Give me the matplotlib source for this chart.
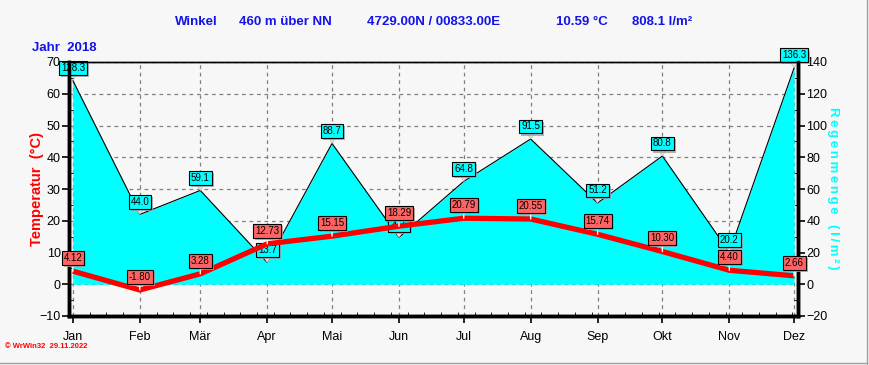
import numpy as np
import matplotlib
matplotlib.use("Agg")
import matplotlib.pyplot as plt
import matplotlib.patheffects as pe
from matplotlib.ticker import MultipleLocator, FixedLocator

# data
months = ['Jan', 'Feb', 'Mär', 'Apr', 'Mai', 'Jun', 'Jul', 'Aug', 'Sep', 'Okt', 'Nov', 'Dez']
month_len = [31, 28, 31, 30, 31, 30, 31, 31, 30, 31, 30, 31]
temp = [4.12, -1.80, 3.28, 12.73, 15.15, 18.29, 20.79, 20.55, 15.74, 10.30, 4.40, 2.66]
rain = [128.3, 44.0, 59.1, 13.7, 88.7, 29.5, 64.8, 91.5, 51.2, 80.8, 20.2, 136.3]

title_parts = ['Winkel', '460 m über NN', '4729.00N / 00833.00E', '10.59 °C', '808.1 l/m²']
year_label = 'Jahr  2018'

plt.rcParams['font.family'] = ['Liberation Sans', 'DejaVu Sans']
bg = '#F7F7F7'
blue = '#1414E6'
grid_kw = dict(color='#808080', ls=(0, (3, 3)), lw=0.9)

x = np.concatenate([[0], np.cumsum(month_len[:-1])])

fig = plt.figure(figsize=(8.69, 3.65), dpi=100, facecolor=bg)
ax = fig.add_axes([69 / 869, 1 - 316 / 365, (798 - 69) / 869, (316 - 62) / 365])
ax2 = ax.twinx()
ax.set_zorder(ax2.get_zorder() + 1)
ax.patch.set_visible(False)
ax2.set_facecolor(bg)

# rain area (grid lives on the rain axes so the fill covers it)
ax2.fill_between(x, 0, rain, color='#00FFFF', lw=0, zorder=2)
ax2.plot(x, rain, color='black', lw=0.8, zorder=3)
ax2.set_ylim(-20, 140)
ax2.yaxis.set_major_locator(MultipleLocator(20))
ax2.yaxis.set_minor_locator(MultipleLocator(10))
ax2.set_axisbelow(True)
ax2.grid(True, which='major', axis='y', **grid_kw)
for xi in x:
    ax2.axvline(xi, zorder=0.5, **grid_kw)

# temperature line
ax.plot(x, temp, color='#FF0000', lw=3.8, solid_capstyle='butt', zorder=5)
ax.set_ylim(-10, 70)
ax.set_xlim(-1.8, 335.8)
ax.yaxis.set_major_locator(MultipleLocator(10))
ax.yaxis.set_minor_locator(MultipleLocator(5))
ax.xaxis.set_major_locator(FixedLocator(x))
ax.set_xticklabels(months)
ax.xaxis.set_minor_locator(FixedLocator(np.arange(0, 336, 7.75)))

for a in (ax, ax2):
    a.tick_params(labelsize=9, colors='black', width=1.2)
    a.tick_params(which='minor', length=3, direction='in')
ax.tick_params(axis='x', which='major', length=5, direction='out', pad=6)
ax.tick_params(axis='y', which='major', length=5, direction='out', pad=1)
ax2.tick_params(axis='y', which='major', length=5, direction='out', pad=1)

for a in (ax, ax2):
    a.spines['top'].set_linewidth(1.0)
    for s in ('left', 'right', 'bottom'):
        a.spines[s].set_linewidth(2.5)

shadow = [pe.withSimplePatchShadow(offset=(1.5, -1.5), shadow_rgbFace='#A0A0A0', alpha=0.8)]

# rain labels with small pointer
for xi, r in zip(x, rain):
    ax2.annotate('', xy=(xi, r), xytext=(0, 4), textcoords='offset points', zorder=6,
                 arrowprops=dict(arrowstyle='wedge,tail_width=0.5', fc='#E4E4E4', ec='#C0C0C0',
                                 lw=0.5, shrinkA=0, shrinkB=0))
    t = ax2.annotate(f'{r:.1f}', xy=(xi, r), xytext=(0, 9), textcoords='offset points',
                     ha='center', va='center', fontsize=7, zorder=6,
                     bbox=dict(boxstyle='square,pad=0.2', fc='#00FFFF', ec='black', lw=0.8))
    t.get_bbox_patch().set_path_effects(shadow)

# temperature labels with white pointer
for xi, tv in zip(x, temp):
    ax.annotate('', xy=(xi, tv), xytext=(0, 4.5), textcoords='offset points', zorder=7,
                arrowprops=dict(arrowstyle='-', color='white', lw=1.0, shrinkA=0, shrinkB=0))
    t = ax.annotate(f'{tv:.2f}', xy=(xi, tv), xytext=(0, 9.5), textcoords='offset points',
                    ha='center', va='center', fontsize=7, zorder=7,
                    bbox=dict(boxstyle='square,pad=0.2', fc='#FF6464', ec='black', lw=0.8))
    t.get_bbox_patch().set_path_effects(shadow)

# titles
tx = [175, 239, 367, 556, 632]
for px, s in zip(tx, title_parts):
    fig.text(px / 869, 1 - 22 / 365, s, color=blue, fontsize=9.5, fontweight='bold', va='center')
fig.text(32 / 869, 1 - 48 / 365, year_label, color=blue, fontsize=9.5, fontweight='bold', va='center')

fig.text(37 / 869, 1 - 189 / 365, 'Temperatur  (°C)', color='#FF0000', fontsize=10.5,
         fontweight='bold', rotation=90, ha='center', va='center')
rlabel = '\u2009'.join('Regenmenge') + '\u2009\u2009\u2009\u2009' + '\u2009'.join('(l/m²)')
fig.text(833 / 869, 1 - 188 / 365, rlabel, color='#00FFFF', fontsize=9.5,
         fontweight='bold', rotation=-90, ha='center', va='center')
fig.text(5 / 869, 1 - 347 / 365, '© WrWin32  29.11.2022', color='#FF0000', fontsize=5.5,
         fontweight='bold', va='center')

# frame lines
fig.add_artist(plt.Line2D([0, 867 / 869], [1 - 363 / 365] * 2, color='#A0A0A0', lw=1))
fig.add_artist(plt.Line2D([867 / 869] * 2, [0, 1], color='#A0A0A0', lw=1))

fig.savefig('out.png', dpi=100, facecolor=bg)
